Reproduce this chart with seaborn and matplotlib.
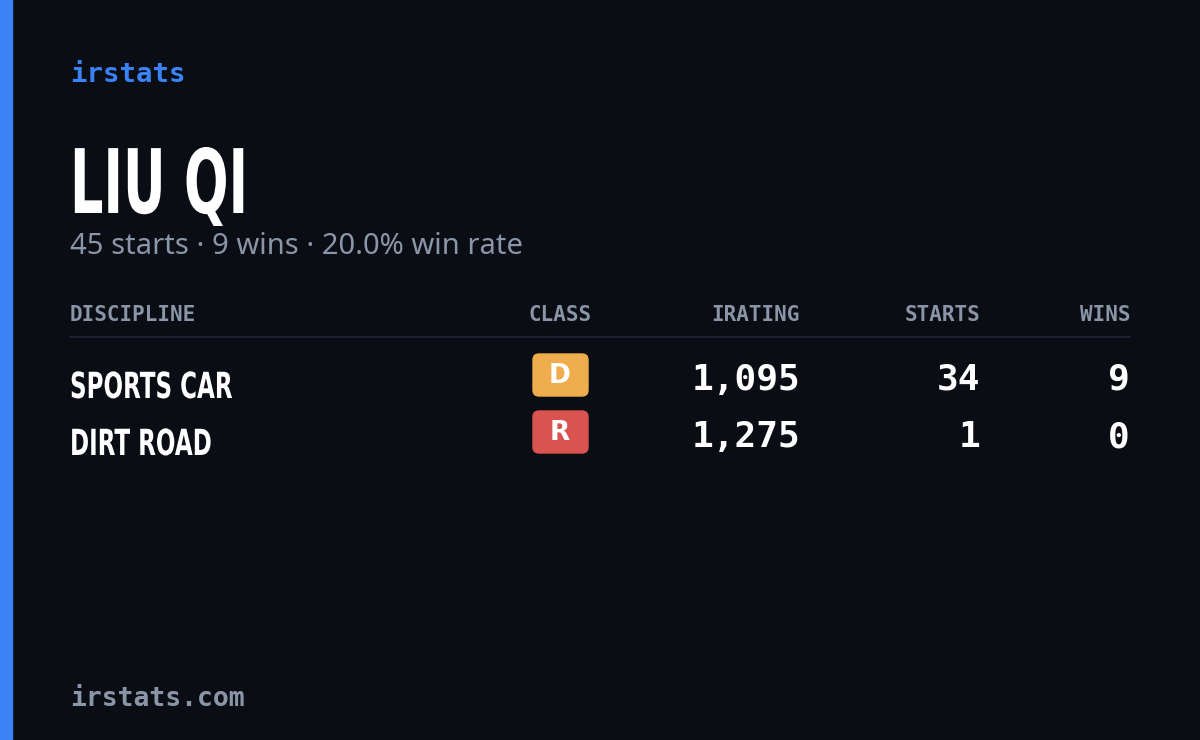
import matplotlib
matplotlib.use("Agg")
import matplotlib.pyplot as plt
import seaborn as sns
from matplotlib.patches import FancyBboxPatch, Rectangle, PathPatch
from matplotlib.textpath import TextPath
from matplotlib.font_manager import FontProperties
from matplotlib.transforms import Affine2D

brand = "irstats"
driver = "LIU QI"
subtitle = "45 starts · 9 wins · 20.0% win rate"
headers = ["DISCIPLINE", "CLASS", "IRATING", "STARTS", "WINS"]
disciplines = ["SPORTS CAR", "DIRT ROAD"]
classes = ["D", "R"]
class_colors = ["#f0ad4e", "#d9534f"]
iratings = [1095, 1275]
starts = [34, 1]
wins = [9, 0]
footer = "irstats.com"

sns.set_style("dark")
BG = "#0a0d14"
fig = plt.figure(figsize=(12, 7.4), dpi=100, facecolor=BG)
ax = fig.add_axes([0, 0, 1, 1])
ax.set_facecolor(BG)
ax.set_xlim(0, 1200); ax.set_ylim(740, 0); ax.axis("off")

boldfp = FontProperties(family="DejaVu Sans", weight="bold")
def narrow_text(x, ybase, s, size, sx):
    tp = TextPath((0, 0), s, size=size, prop=boldfp)
    path = Affine2D().scale(sx, -1).translate(x, ybase).transform_path(tp)
    ax.add_patch(PathPatch(path, facecolor="white", edgecolor="none"))

ax.add_patch(Rectangle((0, 0), 12, 740, color="#3b82f6"))
mono = "DejaVu Sans Mono"
ax.text(70, 75, brand, color="#3b82f6", fontsize=19.7, family=mono, weight="bold", va="center")
narrow_text(70, 213, driver, 89, 0.59)
ax.text(70, 247, subtitle, color="#8b95a8", fontsize=21, family="Noto Sans", va="center")

hx = [70, 560, 800, 980, 1130]
ha = ["left", "center", "right", "right", "right"]
for x, h, a in zip(hx, headers, ha):
    ax.text(x, 315, h, color="#8b95a8", fontsize=15, family=mono, weight="bold", ha=a, va="center")
ax.plot([70, 1130], [337, 337], color="#1c2230", lw=1.5)

for i, (d, c, cc, r, s, w) in enumerate(zip(disciplines, classes, class_colors, iratings, starts, wins)):
    y = 383 + i * 57
    narrow_text(70, y + 15, d, 36, 0.64)
    ax.add_patch(FancyBboxPatch((533, y - 29), 55, 42, boxstyle="round,pad=0,rounding_size=6", color=cc))
    ax.text(560, y - 7, c, color="white", fontsize=19, family="DejaVu Sans", weight="bold", ha="center", va="center")
    for xx, v in [(800, f"{r:,}"), (980, str(s)), (1130, str(w))]:
        ax.text(xx, y - 3, v, color="white", fontsize=26, family=mono, weight="bold", ha="right", va="center")

ax.text(70, 699, footer, color="#8b95a8", fontsize=19, family=mono, weight="bold", va="center")
fig.savefig("out.png", dpi=100, facecolor=BG)
